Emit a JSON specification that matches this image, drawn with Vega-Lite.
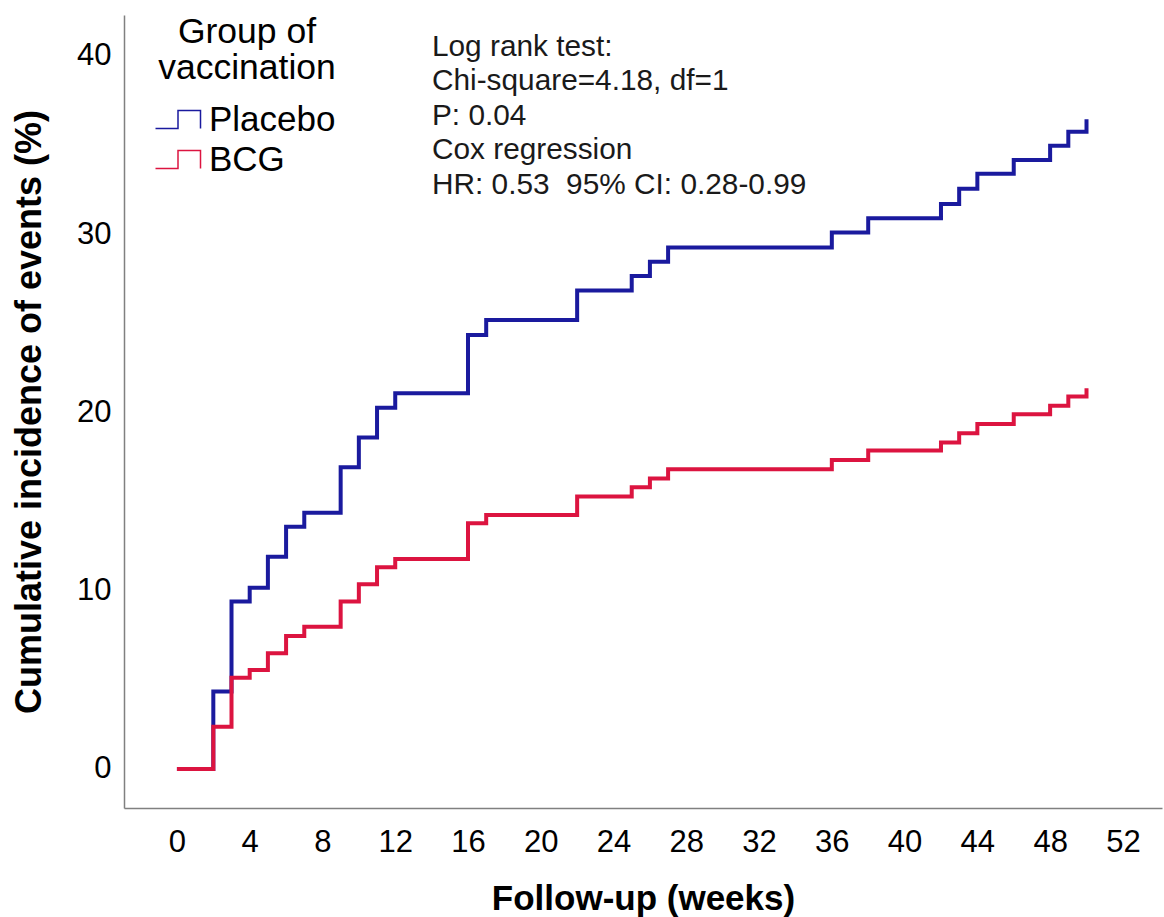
{
  "$schema": "https://vega.github.io/schema/vega-lite/v6.json",
  "width": 1038,
  "height": 793,
  "autosize": {"type": "none"},
  "padding": {"left": 124, "top": 15, "right": 2, "bottom": 109},
  "background": "white",
  "config": {
    "view": {"stroke": null},
    "font": "Liberation Sans",
    "axis": {"grid": false, "ticks": false, "domainColor": "#808080", "domainWidth": 1.5, "labelColor": "#000000", "titleColor": "#000000", "labelFont": "Liberation Sans", "titleFont": "Liberation Sans"}
  },
  "data": {
    "values": [
      {"week": 0, "pct": 0, "group": "Placebo"},
      {"week": 2, "pct": 4.35, "group": "Placebo"},
      {"week": 3, "pct": 9.39, "group": "Placebo"},
      {"week": 4, "pct": 10.17, "group": "Placebo"},
      {"week": 5, "pct": 11.91, "group": "Placebo"},
      {"week": 6, "pct": 13.59, "group": "Placebo"},
      {"week": 7, "pct": 14.38, "group": "Placebo"},
      {"week": 9, "pct": 16.93, "group": "Placebo"},
      {"week": 10, "pct": 18.59, "group": "Placebo"},
      {"week": 11, "pct": 20.27, "group": "Placebo"},
      {"week": 12, "pct": 21.08, "group": "Placebo"},
      {"week": 16, "pct": 24.35, "group": "Placebo"},
      {"week": 17, "pct": 25.19, "group": "Placebo"},
      {"week": 22, "pct": 26.84, "group": "Placebo"},
      {"week": 25, "pct": 27.66, "group": "Placebo"},
      {"week": 26, "pct": 28.46, "group": "Placebo"},
      {"week": 27, "pct": 29.25, "group": "Placebo"},
      {"week": 36, "pct": 30.1, "group": "Placebo"},
      {"week": 38, "pct": 30.9, "group": "Placebo"},
      {"week": 42, "pct": 31.7, "group": "Placebo"},
      {"week": 43, "pct": 32.55, "group": "Placebo"},
      {"week": 44, "pct": 33.4, "group": "Placebo"},
      {"week": 46, "pct": 34.17, "group": "Placebo"},
      {"week": 48, "pct": 34.97, "group": "Placebo"},
      {"week": 49, "pct": 35.75, "group": "Placebo"},
      {"week": 50, "pct": 36.45, "group": "Placebo"},
      {"week": 0, "pct": 0, "group": "BCG"},
      {"week": 2, "pct": 2.37, "group": "BCG"},
      {"week": 3, "pct": 5.12, "group": "BCG"},
      {"week": 4, "pct": 5.55, "group": "BCG"},
      {"week": 5, "pct": 6.49, "group": "BCG"},
      {"week": 6, "pct": 7.46, "group": "BCG"},
      {"week": 7, "pct": 7.98, "group": "BCG"},
      {"week": 9, "pct": 9.39, "group": "BCG"},
      {"week": 10, "pct": 10.36, "group": "BCG"},
      {"week": 11, "pct": 11.31, "group": "BCG"},
      {"week": 12, "pct": 11.78, "group": "BCG"},
      {"week": 16, "pct": 13.78, "group": "BCG"},
      {"week": 17, "pct": 14.25, "group": "BCG"},
      {"week": 22, "pct": 15.28, "group": "BCG"},
      {"week": 25, "pct": 15.8, "group": "BCG"},
      {"week": 26, "pct": 16.3, "group": "BCG"},
      {"week": 27, "pct": 16.81, "group": "BCG"},
      {"week": 36, "pct": 17.33, "group": "BCG"},
      {"week": 38, "pct": 17.86, "group": "BCG"},
      {"week": 42, "pct": 18.31, "group": "BCG"},
      {"week": 43, "pct": 18.83, "group": "BCG"},
      {"week": 44, "pct": 19.35, "group": "BCG"},
      {"week": 46, "pct": 19.9, "group": "BCG"},
      {"week": 48, "pct": 20.38, "group": "BCG"},
      {"week": 49, "pct": 20.9, "group": "BCG"},
      {"week": 50, "pct": 21.36, "group": "BCG"}
    ]
  },
  "layer": [
    {
      "mark": {"type": "line", "interpolate": "step-after", "strokeWidth": 4, "clip": true},
      "encoding": {
        "x": {
          "field": "week", "type": "quantitative",
          "scale": {"domain": [-2.91, 54.15], "nice": false, "zero": false},
          "axis": {"values": [0, 4, 8, 12, 16, 20, 24, 28, 32, 36, 40, 44, 48, 52], "labelFontSize": 31, "labelPadding": 19, "title": "Follow-up (weeks)", "titleFontSize": 35, "titleFontWeight": "bold", "titlePadding": 24}
        },
        "y": {
          "field": "pct", "type": "quantitative",
          "scale": {"domain": [-2.19, 42.3], "nice": false, "zero": false},
          "axis": {"values": [0, 10, 20, 30, 40], "labelFontSize": 31, "labelPadding": 13, "title": "Cumulative incidence of events (%)", "titleFontSize": 36, "titleFontWeight": "bold", "titlePadding": 28}
        },
        "color": {
          "field": "group", "type": "nominal",
          "scale": {"domain": ["Placebo", "BCG"], "range": ["#1a1a9e", "#dc1440"]},
          "legend": {
            "orient": "none", "legendX": 34, "legendY": 0,
            "title": ["Group of", "vaccination"],
            "titleFontSize": 35.5, "titleFontWeight": "normal", "titleColor": "#000000",
            "titleAnchor": "middle", "titleAlign": "center", "titleLineHeight": 36, "titlePadding": 14,
            "labelFontSize": 35, "labelColor": "#000000", "labelOffset": 12,
            "symbolType": "M-1.25,0.5H0V-0.5H1.25V0.5", "symbolSize": 1296, "symbolStrokeWidth": 1.5,
            "rowPadding": 3, "padding": 0
          }
        }
      }
    },
    {
      "data": {"values": [{"note": "stats"}]},
      "mark": {"type": "text", "align": "left", "baseline": "alphabetic", "fontSize": 29.8, "lineHeight": 34.5, "color": "#1a1a1a", "font": "Liberation Sans"},
      "encoding": {
        "x": {"datum": 14.02},
        "y": {"datum": 40},
        "text": {"value": ["Log rank test:", "Chi-square=4.18, df=1", "P: 0.04", "Cox regression", "HR: 0.53\u00a0 95% CI: 0.28-0.99"]}
      }
    }
  ]
}
